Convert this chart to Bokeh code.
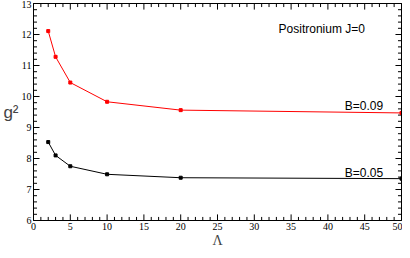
from bokeh.plotting import figure
from bokeh.models import Range1d, LinearAxis, Label, FixedTicker, ColumnDataSource
from bokeh.embed import file_html
from bokeh.resources import INLINE

lam = [2, 3, 5, 10, 20, 50]
g2_b009 = [12.11, 11.28, 10.45, 9.83, 9.56, 9.47]
g2_b005 = [8.53, 8.10, 7.75, 7.49, 7.38, 7.35]
x_ticks = [0, 5, 10, 15, 20, 25, 30, 35, 40, 45, 50]
y_ticks = [6, 7, 8, 9, 10, 11, 12, 13]
x_lo, x_hi, y_lo, y_hi = 0, 50, 6, 13

W, H = 402, 250
p = figure(width=W, height=H, output_backend="svg", toolbar_location=None,
           x_range=Range1d(x_lo, x_hi), y_range=Range1d(y_lo, y_hi),
           min_border_left=33, min_border_right=1, min_border_top=3, min_border_bottom=10)
p.xgrid.visible = False
p.ygrid.visible = False
p.outline_line_color = "black"
p.outline_line_width = 1

def style(ax, ticks, labels=True):
    ax.ticker = FixedTicker(ticks=ticks)
    ax.major_tick_in = 0
    ax.major_tick_out = 0
    ax.minor_tick_in = 0
    ax.minor_tick_out = 0
    ax.axis_line_color = "black"
    ax.major_label_text_font = "Liberation Serif"
    ax.major_label_text_font_size = "10px"
    ax.major_label_text_color = "black"
    ax.major_label_standoff = 2
    if not labels:
        ax.major_label_text_font_size = "0px"
        ax.major_label_standoff = 0

style(p.xaxis[0], x_ticks)
style(p.yaxis[0], y_ticks)
p.xaxis[0].axis_label = "Λ"
p.xaxis[0].axis_label_text_font = "Liberation Serif"
p.xaxis[0].axis_label_text_font_style = "normal"
p.xaxis[0].axis_label_text_font_size = "14px"
p.xaxis[0].axis_label_standoff = 0
p.yaxis[0].axis_label = "g²"
p.yaxis[0].axis_label_text_font = "Liberation Sans"
p.yaxis[0].axis_label_text_font_style = "normal"
p.yaxis[0].axis_label_text_font_size = "17px"
p.yaxis[0].axis_label_standoff = 0
p.yaxis[0].axis_label_orientation = "horizontal"

top = LinearAxis()
style(top, x_ticks, labels=False)
p.add_layout(top, "above")
right = LinearAxis()
style(right, y_ticks, labels=False)
p.add_layout(right, "right")

# inward tick marks on all four sides, built from the tick lists as broken polylines
NaN = float("nan")
px_x = (W - 33 - 2) / (x_hi - x_lo)
px_y = (H - 3 - 33) / (y_hi - y_lo)
x_minor = [v for v in range(x_lo, x_hi + 1) if v not in x_ticks]
y_minor = [round(y_lo + 0.2 * i, 1) for i in range(int((y_hi - y_lo) / 0.2) + 1)]
y_minor = [v for v in y_minor if v not in y_ticks]
tx, ty = [], []
for xs, ln in [(x_ticks, 6), (x_minor, 3.5)]:
    for v in xs:
        tx += [v, v, NaN, v, v, NaN]
        ty += [y_lo, y_lo + ln / px_y, NaN, y_hi, y_hi - ln / px_y, NaN]
for ys, ln in [(y_ticks, 6), (y_minor, 3.5)]:
    for v in ys:
        tx += [x_lo, x_lo + ln / px_x, NaN, x_hi, x_hi - ln / px_x, NaN]
        ty += [v, v, NaN, v, v, NaN]
p.line(tx, ty, line_color="black", line_width=1)

src = ColumnDataSource(dict(x=lam, a=g2_b009, b=g2_b005))
p.line("x", "a", source=src, line_color="#ff0000", line_width=1)
p.scatter("x", "a", source=src, marker="square", size=3, fill_color="#ff0000", line_color="#ff0000")
p.line("x", "b", source=src, line_color="black", line_width=1)
p.scatter("x", "b", source=src, marker="square", size=3, fill_color="black", line_color="black")

for txt, xx, yy in [("Positronium J=0", 33.3, 12.19), ("B=0.09", 42.3, 9.69), ("B=0.05", 42.3, 7.54)]:
    p.add_layout(Label(x=xx, y=yy, text=txt, text_font="Liberation Sans",
                       text_font_size="12px", text_color="black", text_baseline="alphabetic"))

open("out.html", "w").write(file_html(p, INLINE))
